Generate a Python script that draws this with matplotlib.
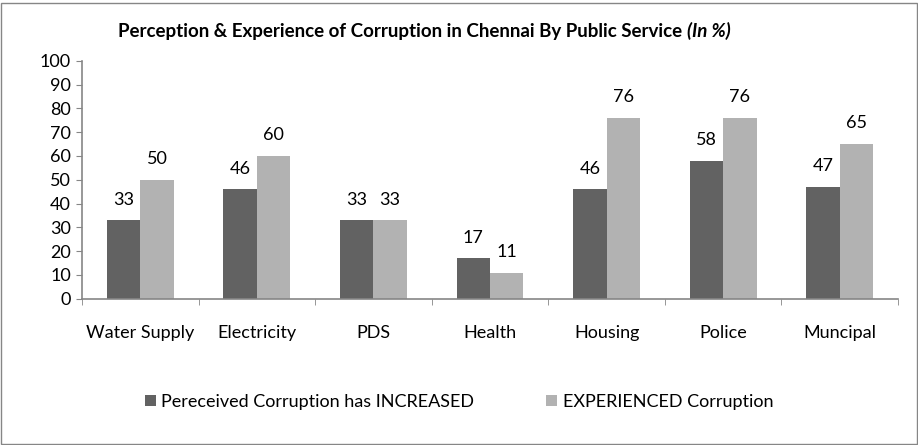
import matplotlib
matplotlib.use("Agg")
import matplotlib.pyplot as plt
import numpy as np
from matplotlib.patches import Rectangle

plt.rcParams['font.family'] = ['Lato', 'DejaVu Sans']

categories = ['Water Supply', 'Electricity', 'PDS', 'Health', 'Housing', 'Police', 'Muncipal']
perceived = [33, 46, 33, 17, 46, 58, 47]
experienced = [50, 60, 33, 11, 76, 76, 65]
series_names = ['Pereceived Corruption has INCREASED', 'EXPERIENCED Corruption']

dark = '#626262'
light = '#b2b2b2'
axis_col = '#868686'
fs = 13

fig = plt.figure(figsize=(9.18, 4.45), dpi=100)
ax = fig.add_axes([82/918, 1-298.7/445, 816/918, 238/445])

x = np.arange(len(categories))
w = 0.287
b1 = ax.bar(x - w/2, perceived, w, color=dark, label=series_names[0])
b2 = ax.bar(x + w/2, experienced, w, color=light, label=series_names[1])

# value labels above each bar
for bars, vals in ((b1, perceived), (b2, experienced)):
    for r, v in zip(bars, vals):
        ax.annotate(str(v), (r.get_x() + r.get_width()/2, v), xytext=(0, 9),
                    textcoords='offset points', ha='center', va='bottom', fontsize=fs)

ax.set_xlim(-0.5, len(categories) - 0.5)
ax.set_ylim(0, 100)
ax.set_yticks(range(0, 101, 10))
ax.set_xticks(x)
ax.set_xticklabels(categories, fontsize=fs)
ax.set_xticks(np.arange(-0.5, len(categories)), minor=True)
ax.tick_params(axis='x', which='major', length=0, pad=19)
ax.tick_params(axis='x', which='minor', length=4, color=axis_col, direction='out')
ax.tick_params(axis='y', length=4, color=axis_col, labelsize=fs, pad=4)
for s in ['top', 'right']:
    ax.spines[s].set_visible(False)
for s in ['left', 'bottom']:
    ax.spines[s].set_color(axis_col)
    ax.spines[s].set_linewidth(1.2)

# title, bold with italic suffix
t1 = fig.text(118/918, 1-31/445, 'Perception & Experience of Corruption in Chennai By Public Service ',
              fontsize=13.5, fontweight='bold', ha='left', va='center')
fig.canvas.draw()
bb = t1.get_window_extent()
fig.text(bb.x1/918, 1-31/445, '(In %)', fontsize=13.5, fontweight='bold', style='italic',
         ha='left', va='center')

fig.legend(loc='center', bbox_to_anchor=(0.5, 1-402/445), ncol=2, frameon=False,
           fontsize=fs, handlelength=0.6, handleheight=0.6, handletextpad=0.3,
           columnspacing=4.0)

# outer chart border
fig.add_artist(Rectangle((0.5/918, 1.5/445), 916/918, 441/445, transform=fig.transFigure,
                         fill=False, edgecolor=axis_col, linewidth=1))

fig.savefig('out.png', dpi=100)
